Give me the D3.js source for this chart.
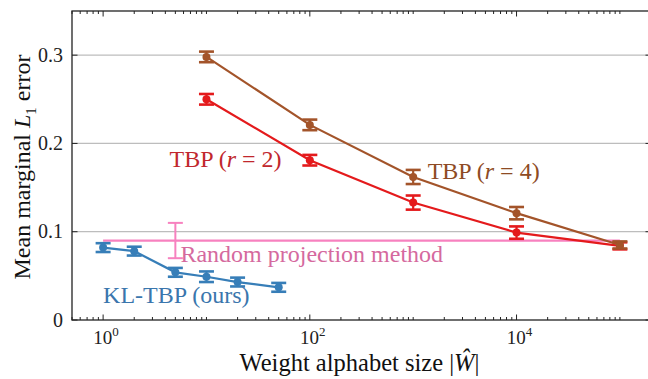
<!DOCTYPE html>
<html>
<head>
<meta charset="utf-8">
<script src="https://cdn.jsdelivr.net/npm/d3@7"></script>
<style>
  body { margin: 0; background: #fff; }
</style>
</head>
<body>
<div id="chart"></div>
<script>
// alphabet sizes
const klSizes = [1, 2, 5, 10, 20, 50];
const tbpSizes = [10, 100, 1000, 10000, 100000];

// mean error and half error-bar
const klMean = [0.082, 0.078, 0.054, 0.049, 0.043, 0.037];
const klErr = [0.005, 0.005, 0.005, 0.006, 0.005, 0.005];
const tbp2Mean = [0.250, 0.181, 0.133, 0.099, 0.084];
const tbp2Err = [0.006, 0.006, 0.008, 0.007, 0.004];
const tbp4Mean = [0.298, 0.221, 0.162, 0.121, 0.085];
const tbp4Err = [0.006, 0.006, 0.008, 0.007, 0.004];

// random projection: flat line over all sizes plus one error bar
const randSpan = [1, 100000];
const randMean = 0.09;
const randBarAt = 5;
const randErr = 0.02;

const yTicks = [0, 0.1, 0.2, 0.3];
const yTickLabels = ["0", "0.1", "0.2", "0.3"];
const xMajor = [1, 100, 10000];
const xMajorExp = ["0", "2", "4"];

const series = [
  { name: "TBP2", x: tbpSizes, y: tbp2Mean, e: tbp2Err, color: "#e41a1c" },
  { name: "TBP4", x: tbpSizes, y: tbp4Mean, e: tbp4Err, color: "#a3542a" },
  { name: "KL", x: klSizes, y: klMean, e: klErr, color: "#377eb8" }
];

// annotation text, anchored in data coordinates
const notes = [
  { x: 4.4, y: 0.173, color: "#c1272d", parts: ["TBP (", "r", " = 2)"] },
  { x: 1380, y: 0.160, color: "#8e4b24", parts: ["TBP (", "r", " = 4)"] },
  { x: 5.6, y: 0.0655, color: "#d5699e", parts: ["Random projection method"] },
  { x: 1.0, y: 0.019, color: "#3a76ad", parts: ["KL-TBP (ours)"] }
];

const FONT = "'Liberation Serif', 'Times New Roman', Times, 'DejaVu Serif', serif";

const W = 648, H = 379;
const margin = { top: 11, right: -3, bottom: 59, left: 72 };
const width = W - margin.left - margin.right;
const height = H - margin.top - margin.bottom;

const svg = d3.select("#chart").append("svg")
  .attr("width", W).attr("height", H)
  .style("display", "block")
  .attr("font-family", FONT);
const g = svg.append("g")
  .attr("transform", `translate(${margin.left},${margin.top})`);

const x = d3.scaleLog().domain([0.5, 200000]).range([0, width]);
const y = d3.scaleLinear().domain([0, 0.35]).range([height, 0]);

// grid
g.selectAll(".grid").data(yTicks.slice(1)).enter().append("line")
  .attr("x1", 0).attr("x2", width)
  .attr("y1", d => y(d)).attr("y2", d => y(d))
  .attr("stroke", "#bdbdbd").attr("stroke-width", 1.2);

// ticks: majors every other decade, everything else minor
const allTicks = x.ticks(60).filter(t => t >= 0.5 && t <= 200000);
const isMajor = t => xMajor.some(m => Math.abs(m - t) / m < 1e-9);
allTicks.forEach(t => {
  const len = isMajor(t) ? 5.5 : 3;
  g.append("line").attr("x1", x(t)).attr("x2", x(t))
    .attr("y1", height).attr("y2", height - len).attr("stroke", "#222").attr("stroke-width", 1);
  g.append("line").attr("x1", x(t)).attr("x2", x(t))
    .attr("y1", 0).attr("y2", len).attr("stroke", "#222").attr("stroke-width", 1);
});
yTicks.forEach(t => {
  g.append("line").attr("x1", 0).attr("x2", 5.5)
    .attr("y1", y(t)).attr("y2", y(t)).attr("stroke", "#222").attr("stroke-width", 1);
  g.append("line").attr("x1", width).attr("x2", width - 5.5)
    .attr("y1", y(t)).attr("y2", y(t)).attr("stroke", "#222").attr("stroke-width", 1);
});

// frame
g.append("rect").attr("width", width).attr("height", height)
  .attr("fill", "none").attr("stroke", "#222").attr("stroke-width", 1.3);

// tick labels
yTicks.forEach((t, i) => {
  g.append("text").attr("x", -9).attr("y", y(t)).attr("dy", "0.33em")
    .attr("text-anchor", "end").attr("font-size", 20).attr("fill", "#222")
    .text(yTickLabels[i]);
});
xMajor.forEach((t, i) => {
  const tx = g.append("text").attr("x", x(t) + 3).attr("y", height + 24)
    .attr("text-anchor", "middle").attr("font-size", 19).attr("fill", "#222");
  tx.append("tspan").text("10");
  tx.append("tspan").attr("dy", -8).attr("font-size", 13).text(xMajorExp[i]);
});

// axis titles
const xl = svg.append("text").attr("x", margin.left + width / 2 - 2).attr("y", 371)
  .attr("text-anchor", "middle").attr("font-size", 24.5).attr("fill", "#111");
xl.append("tspan").text("Weight alphabet size |");
xl.append("tspan").attr("font-style", "italic").text("\u0174");
xl.append("tspan").text("|");

const yl = svg.append("text").attr("transform", "translate(30,167) rotate(-90)")
  .attr("text-anchor", "middle").attr("font-size", 24).attr("fill", "#111");
yl.append("tspan").text("Mean marginal ");
yl.append("tspan").attr("font-style", "italic").text("L");
yl.append("tspan").attr("dy", 6).attr("font-size", 15).text("1");
yl.append("tspan").attr("dy", -6).text(" error");

// random projection baseline
const capW = 7.5;
g.append("line")
  .attr("x1", x(randSpan[0])).attr("x2", x(randSpan[1]))
  .attr("y1", y(randMean)).attr("y2", y(randMean))
  .attr("stroke", "#f781bf").attr("stroke-width", 2.2);
const rx = x(randBarAt);
g.append("line").attr("x1", rx).attr("x2", rx)
  .attr("y1", y(randMean - randErr)).attr("y2", y(randMean + randErr))
  .attr("stroke", "#f781bf").attr("stroke-width", 2);
[randMean - randErr, randMean + randErr].forEach(v => {
  g.append("line").attr("x1", rx - capW).attr("x2", rx + capW)
    .attr("y1", y(v)).attr("y2", y(v))
    .attr("stroke", "#f781bf").attr("stroke-width", 2);
});

// series with error bars
const line = d3.line().x(d => x(d[0])).y(d => y(d[1]));
series.forEach(s => {
  const pts = s.x.map((v, i) => [v, s.y[i], s.e[i]]);
  const sg = g.append("g");
  sg.append("path").datum(pts).attr("d", line)
    .attr("fill", "none").attr("stroke", s.color).attr("stroke-width", 2.2);
  const eb = sg.selectAll(".eb").data(pts).enter().append("g");
  eb.append("line")
    .attr("x1", d => x(d[0])).attr("x2", d => x(d[0]))
    .attr("y1", d => y(d[1] - d[2])).attr("y2", d => y(d[1] + d[2]))
    .attr("stroke", s.color).attr("stroke-width", 2.2);
  eb.append("line")
    .attr("x1", d => x(d[0]) - capW).attr("x2", d => x(d[0]) + capW)
    .attr("y1", d => y(d[1] - d[2])).attr("y2", d => y(d[1] - d[2]))
    .attr("stroke", s.color).attr("stroke-width", 2.6);
  eb.append("line")
    .attr("x1", d => x(d[0]) - capW).attr("x2", d => x(d[0]) + capW)
    .attr("y1", d => y(d[1] + d[2])).attr("y2", d => y(d[1] + d[2]))
    .attr("stroke", s.color).attr("stroke-width", 2.6);
  eb.append("circle")
    .attr("cx", d => x(d[0])).attr("cy", d => y(d[1])).attr("r", 4)
    .attr("fill", s.color);
});

// annotations
notes.forEach(n => {
  const t = g.append("text").attr("x", x(n.x)).attr("y", y(n.y))
    .attr("font-size", 24).attr("fill", n.color);
  n.parts.forEach(p => {
    t.append("tspan").attr("font-style", p === "r" ? "italic" : null).text(p);
  });
});
</script>
</body>
</html>
